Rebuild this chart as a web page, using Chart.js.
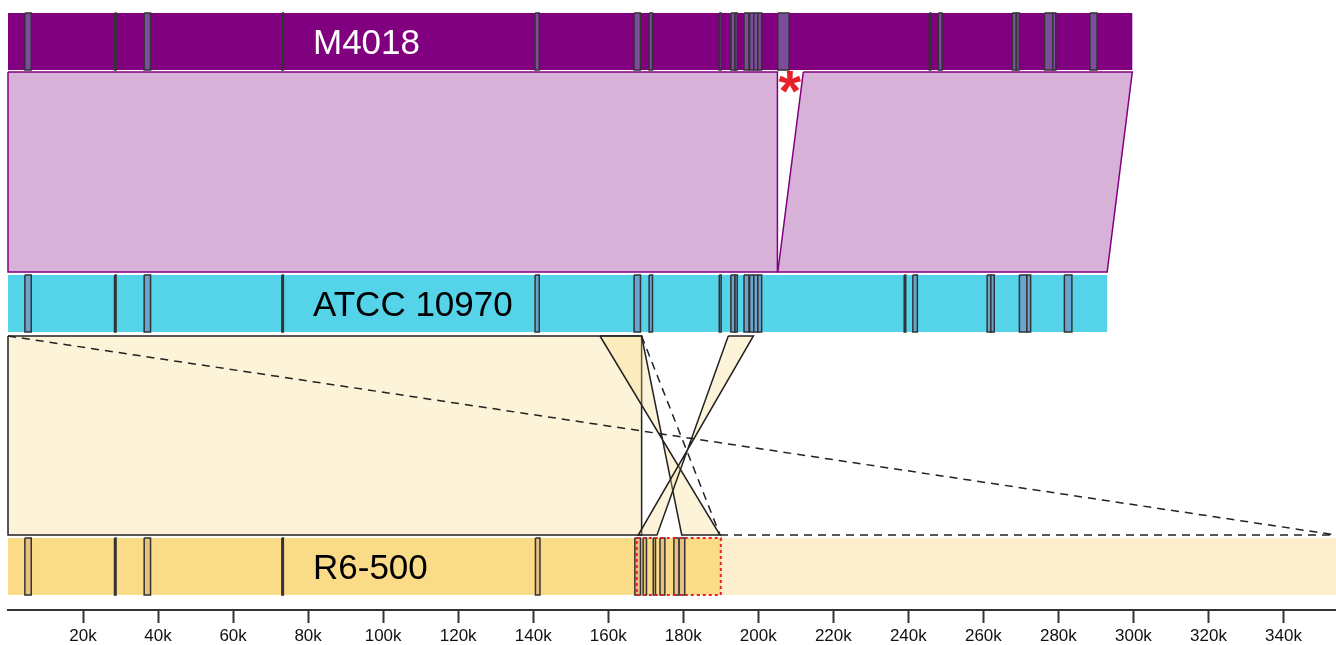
<!DOCTYPE html>
<html>
<head>
<meta charset="utf-8">
<script src="https://cdn.jsdelivr.net/npm/chart.js@4.4.1/dist/chart.umd.min.js"></script>
<style>
  html, body { margin: 0; padding: 0; background: #fff; }
</style>
</head>
<body>
<canvas id="chart" width="1336" height="645"></canvas>
<script>
// genome coordinates in bp
const X_MAX = 354000
const TICK_VALUES = [20000, 40000, 60000, 80000, 100000, 120000, 140000, 160000, 180000,
  200000, 220000, 240000, 260000, 280000, 300000, 320000, 340000]
const TRACK_NAMES = ["M4018", "ATCC 10970", "R6-500"]
const TRACK_LENGTHS = [299700, 293000, 354000]
const R6_CORE_END = 190000

const M4018_FEATURES = [
  [4500, 6200], [28400, 28800], [36300, 38000], [73000, 73400], [140500, 141600],
  [166900, 168600], [170900, 171800], [189600, 190100], [192700, 193800], [193800, 194400],
  [196200, 197500], [197700, 198800], [198800, 199900], [199900, 200900], [205200, 208200],
  [245600, 246000], [248000, 249000], [267700, 268800], [268800, 269600], [276300, 278500],
  [278500, 279300], [288400, 290300]
]
const ATCC_FEATURES = [
  [4500, 6200], [28400, 28800], [36300, 38000], [73000, 73400], [140500, 141600],
  [166900, 168600], [170900, 171800], [189600, 190100], [192700, 193800], [193800, 194400],
  [196200, 197500], [197700, 198800], [198800, 199900], [199900, 200900], [238900, 239300],
  [241200, 242400], [261000, 262000], [262000, 262900], [269600, 271600], [271600, 272600],
  [281600, 283600]
]
const R6_FEATURES = [
  [4500, 6200], [28400, 28800], [36300, 38000], [73000, 73400], [140600, 141800],
  [167100, 168600], [169300, 170200], [172000, 172600], [173800, 175100], [177500, 178900],
  [178900, 180400]
]

// alignment blocks: [topStart, topEnd, bottomStart, bottomEnd]
const M4018_ATCC_BLOCKS = [[0, 205100, 0, 205100], [212000, 299700, 205200, 293000]]
const ATCC_R6_BLOCKS = [[0, 168900, 0, 168900], [157800, 168900, 189800, 179600], [192000, 198700, 173000, 168000]]
// dashed guides: [top, bottom]
const ATCC_R6_DASHED = [[0, 354000], [168900, 189800]]
const R6_DASHED_EDGE = [189800, 354000]

const INSERTION_POS = 208400
const HIGHLIGHT = [167600, 190000]

// layout (vertical units, top down)
const ROW_Y = [[13, 70], [275, 332], [538, 595]]
const LINK_Y = [[72, 272], [336, 535]]
const LABEL_POS = 81300

const rect = (x0, x1, y0, y1) => [
  {x: x0, y: y0}, {x: x1, y: y0}, {x: x1, y: y1}, {x: x0, y: y1}, {x: x0, y: y0}
]
const link = (b, y0, y1) => [
  {x: b[0], y: y0}, {x: b[1], y: y0}, {x: b[3], y: y1}, {x: b[2], y: y1}, {x: b[0], y: y0}
]
const shape = (points, fillColor, borderColor, borderWidth, dash) => ({
  data: points,
  fill: fillColor ? 'shape' : false,
  backgroundColor: fillColor || 'transparent',
  borderColor: borderColor || 'transparent',
  borderWidth: borderWidth || 1,
  borderDash: dash || [],
  borderJoinStyle: 'miter',
  pointRadius: 0,
  tension: 0,
  clip: false
})

const datasets = []
// tracks
datasets.push(shape(rect(0, TRACK_LENGTHS[0], ROW_Y[0][0], ROW_Y[0][1]), '#800080'))
datasets.push(shape(rect(0, TRACK_LENGTHS[1], ROW_Y[1][0], ROW_Y[1][1]), '#54d3e9'))
datasets.push(shape(rect(R6_CORE_END, TRACK_LENGTHS[2], ROW_Y[2][0], ROW_Y[2][1]), '#fdefcd'))
datasets.push(shape(rect(0, R6_CORE_END, ROW_Y[2][0], ROW_Y[2][1]), '#fadb87'))

// links
M4018_ATCC_BLOCKS.forEach(b => datasets.push(shape(link(b, LINK_Y[0][0], LINK_Y[0][1]), '#d8b1d8', '#800080', 1.5)))
ATCC_R6_BLOCKS.forEach(b => datasets.push(shape(link(b, LINK_Y[1][0], LINK_Y[1][1]), 'rgba(250,215,125,0.3)', '#222', 1.5)))
ATCC_R6_DASHED.forEach(d => datasets.push(shape([{x: d[0], y: LINK_Y[1][0]}, {x: d[1], y: LINK_Y[1][1]}], null, '#222', 1.5, [8, 6])))
datasets.push(shape([{x: R6_DASHED_EDGE[0], y: LINK_Y[1][1]}, {x: R6_DASHED_EDGE[1], y: LINK_Y[1][1]}], null, '#222', 1.5, [8, 6]))

// features
M4018_FEATURES.forEach(f => datasets.push(shape(rect(f[0], f[1], ROW_Y[0][0], ROW_Y[0][1]), '#7d4c9c', '#333', 1.5)))
ATCC_FEATURES.forEach(f => datasets.push(shape(rect(f[0], f[1], ROW_Y[1][0], ROW_Y[1][1]), '#6aa5d0', '#333', 1.5)))
R6_FEATURES.forEach(f => datasets.push(shape(rect(f[0], f[1], ROW_Y[2][0], ROW_Y[2][1]), '#e8c182', '#333', 1.5)))

// highlighted region
datasets.push(shape(rect(HIGHLIGHT[0], HIGHLIGHT[1], ROW_Y[2][0], ROW_Y[2][1]), null, '#e8202a', 2, [3, 3]))

datasets.forEach((d, i) => { d.order = -i })

const labelPlugin = {
  id: 'trackLabels',
  afterDatasetsDraw(chart) {
    const {ctx, scales: {x, y}} = chart
    ctx.save()
    ctx.font = '35px "Liberation Sans", Arial, sans-serif'
    ctx.textBaseline = 'alphabetic'
    const colors = ['#fff', '#000', '#000']
    TRACK_NAMES.forEach((name, i) => {
      const mid = (ROW_Y[i][0] + ROW_Y[i][1]) / 2
      ctx.fillStyle = colors[i]
      ctx.fillText(name, x.getPixelForValue(LABEL_POS), y.getPixelForValue(mid) + 0.36 * 35)
    })
    // insertion marker
    ctx.font = 'bold 58px "Liberation Sans", Arial, sans-serif'
    ctx.fillStyle = '#e8202a'
    ctx.textAlign = 'center'
    ctx.fillText('*', x.getPixelForValue(INSERTION_POS), y.getPixelForValue(LINK_Y[0][0]) + 39)
    ctx.restore()
  }
}

new Chart(document.getElementById('chart'), {
  type: 'line',
  data: {datasets: datasets},
  options: {
    responsive: false,
    animation: false,
    events: [],
    layout: {padding: {left: 8, right: 0, top: 0, bottom: 0}},
    plugins: {legend: {display: false}, tooltip: {enabled: false}},
    scales: {
      x: {
        type: 'linear',
        bounds: 'data',
        min: 0,
        max: X_MAX,
        afterBuildTicks: s => { s.ticks = TICK_VALUES.map(v => ({value: v})) },
        afterFit: s => { s.height = 35; s.paddingLeft = 0; s.paddingRight = 0 },
        ticks: {
          autoSkip: false,
          maxRotation: 0,
          padding: 3,
          color: '#111',
          font: {family: '"Liberation Sans", Arial, sans-serif', size: 17},
          callback: v => (v / 1000) + 'k'
        },
        grid: {
          drawOnChartArea: false,
          drawTicks: true,
          tickLength: 13,
          tickWidth: 2,
          tickColor: '#333'
        },
        border: {display: true, color: '#333', width: 2}
      },
      y: {
        type: 'linear',
        display: false,
        reverse: true,
        min: 0,
        max: 610
      }
    }
  },
  plugins: [labelPlugin]
})
</script>
</body>
</html>
